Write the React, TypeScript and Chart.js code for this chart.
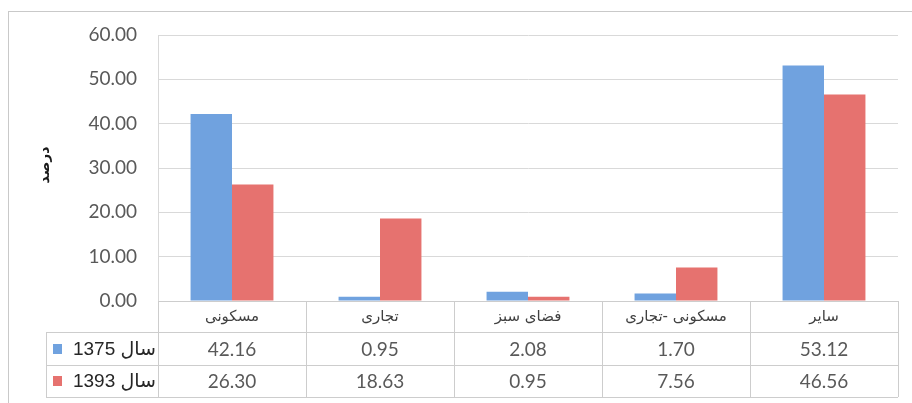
import React, { useEffect, useRef } from "react";
import { Chart, registerables } from "chart.js";

Chart.register(...registerables);

const categories = ["مسکونی", "تجاری", "فضای سبز", "مسکونی -تجاری", "سایر"];
const seriesNames = ["سال 1375", "سال 1393"];
const values1375 = [42.16, 0.95, 2.08, 1.7, 53.12];
const values1393 = [26.3, 18.63, 0.95, 7.56, 46.56];
const yTitle = "درصد";
const colors = ["#70A2DF", "#E6726F"];

const W = 912;
const H = 403;

const tablePlugin = {
  id: "tablePlugin",
  afterDraw(chart: any) {
    const ctx = chart.ctx as CanvasRenderingContext2D;
    const area = chart.chartArea;
    const n = categories.length;
    const colW = (area.right - area.left) / n;
    const top = area.bottom;
    const r1 = top + 31;
    const r2 = r1 + 33;
    const r3 = r2 + 32;
    const legLeft = 46;
    ctx.save();
    // outer frame
    ctx.strokeStyle = "#c9c9c9";
    ctx.lineWidth = 1;
    ctx.strokeRect(8.5, 11.5, W + 10, H + 10);
    // table lines
    ctx.strokeStyle = "#cdcdcd";
    ctx.beginPath();
    ctx.moveTo(area.left, top + 0.5);
    ctx.lineTo(area.right, top + 0.5);
    [r1, r2, r3].forEach((y) => {
      ctx.moveTo(legLeft, Math.round(y) + 0.5);
      ctx.lineTo(area.right, Math.round(y) + 0.5);
    });
    for (let k = 0; k <= n; k++) {
      const x = Math.round(area.left + k * colW) + 0.5;
      ctx.moveTo(x, top);
      ctx.lineTo(x, r3);
    }
    ctx.moveTo(legLeft + 0.5, r1);
    ctx.lineTo(legLeft + 0.5, r3);
    ctx.stroke();

    // header categories
    ctx.direction = "rtl" as any;
    ctx.textAlign = "center";
    ctx.textBaseline = "middle";
    ctx.fillStyle = "#404040";
    ctx.font = '15px "DejaVu Sans", sans-serif';
    const xs = chart.scales.x;
    categories.forEach((c, i) => {
      ctx.fillText(c, xs.getPixelForValue(i), (top + r1) / 2 + 1);
    });
    // values
    ctx.direction = "ltr" as any;
    ctx.fillStyle = "#595959";
    ctx.font = '19px Lato, "DejaVu Sans", sans-serif';
    const rows = [values1375, values1393];
    const rowCenters = [(r1 + r2) / 2, (r2 + r3) / 2];
    rows.forEach((vals, ri) => {
      vals.forEach((v, i) => {
        ctx.fillText(v.toFixed(2), xs.getPixelForValue(i), rowCenters[ri] + 1);
      });
    });
    // legend cells
    rows.forEach((_, ri) => {
      const cy = rowCenters[ri];
      ctx.fillStyle = colors[ri];
      ctx.fillRect(53, Math.round(cy - 5), 9, 10);
      ctx.fillStyle = "#262626";
      ctx.direction = "rtl" as any;
      ctx.textAlign = "right";
      ctx.font = '19px "Liberation Sans", "DejaVu Sans", sans-serif';
      ctx.fillText(seriesNames[ri], 156, cy + 1);
    });
    // y title
    ctx.translate(45, 165);
    ctx.rotate(-Math.PI / 2);
    ctx.direction = "rtl" as any;
    ctx.textAlign = "center";
    ctx.fillStyle = "#1a1a1a";
    ctx.font = 'bold 14px "DejaVu Sans", sans-serif';
    ctx.fillText(yTitle, 0, 0);
    ctx.restore();
  },
};

export default function App() {
  const ref = useRef<HTMLCanvasElement | null>(null);
  useEffect(() => {
    if (!ref.current) return;
    const chart = new Chart(ref.current, {
      type: "bar",
      data: {
        labels: categories,
        datasets: [
          {
            label: seriesNames[0],
            data: values1375,
            backgroundColor: colors[0],
            categoryPercentage: 0.56,
            barPercentage: 1,
          },
          {
            label: seriesNames[1],
            data: values1393,
            backgroundColor: colors[1],
            categoryPercentage: 0.56,
            barPercentage: 1,
          },
        ],
      },
      options: {
        responsive: false,
        animation: false,
        layout: { padding: { left: 0, top: 35, right: 14, bottom: 102 } },
        plugins: { legend: { display: false }, tooltip: { enabled: false } },
        scales: {
          x: { display: false },
          y: {
            min: 0,
            max: 60,
            ticks: {
              stepSize: 10,
              padding: 21,
              color: "#595959",
              font: { family: 'Lato, "DejaVu Sans", sans-serif', size: 19 },
              callback: (v: any) => Number(v).toFixed(2),
            },
            grid: { color: "#d9d9d9", drawTicks: false },
            border: { display: true, color: "#d9d9d9" },
            afterFit: (scale: any) => {
              scale.width = 158;
            },
          },
        },
      },
      plugins: [tablePlugin],
    });
    return () => chart.destroy();
  }, []);
  return (
    <div style={{ position: "absolute", left: 0, top: 0, width: W, height: H, background: "#fff" }}>
      <canvas ref={ref} width={W} height={H} style={{ display: "block" }} />
    </div>
  );
}
